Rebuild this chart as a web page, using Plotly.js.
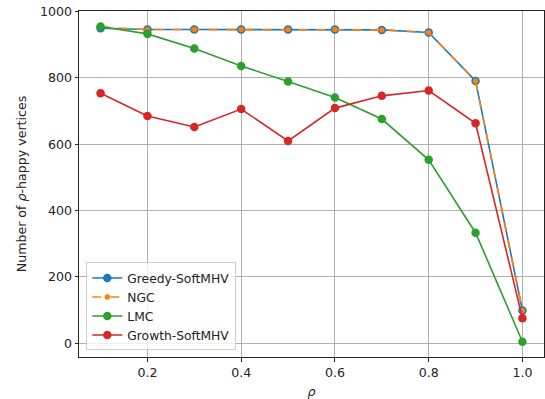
<!DOCTYPE html>
<html><head><meta charset="utf-8">
<script src="https://cdn.plot.ly/plotly-3.0.1.min.js"></script>
<style>body{margin:0;background:#fff}#c{width:545px;height:399px}</style>
</head><body><div id="c"></div>
<script>
const rho = [0.1,0.2,0.3,0.4,0.5,0.6,0.7,0.8,0.9,1.0];
const greedy = [950,946,946,946,946,946,945,937,791,98];
const ngc = [954,946,946,946,946,946,945,937,791,98];
const lmc = [955,933,889,836,789,741,676,553,333,4];
const growth = [754,685,652,706,610,709,746,762,663,75];

const traces = [
  {x:rho,y:greedy,name:'Greedy-SoftMHV',mode:'lines+markers',line:{color:'#1f77b4',width:1.6},marker:{size:8.5,color:'#1f77b4'}},
  {x:rho,y:ngc,name:'NGC',mode:'lines+markers',line:{color:'#ff7f0e',width:1.6,dash:'dash'},marker:{size:5.5,color:'#ff7f0e'}},
  {x:rho,y:lmc,name:'LMC',mode:'lines+markers',line:{color:'#2ca02c',width:1.6},marker:{size:8.5,color:'#2ca02c'}},
  {x:rho,y:growth,name:'Growth-SoftMHV',mode:'lines+markers',line:{color:'#d62728',width:1.6},marker:{size:8.5,color:'#d62728'}}
];
const font = {family:'DejaVu Sans',size:12.6,color:'#222'};
Plotly.newPlot('c',traces,{
  width:545,height:399,
  margin:{l:79,r:1,t:10.5,b:42,autoexpand:false},
  paper_bgcolor:'#fff',plot_bgcolor:'#fff',
  font:font,
  xaxis:{range:[0.054,1.046],tickvals:[0.2,0.4,0.6,0.8,1.0],ticktext:['0.2','0.4','0.6','0.8','1.0'],automargin:false,
    showgrid:true,gridcolor:'#b0b0b0',gridwidth:1,zeroline:false,showline:true,linecolor:'#222',linewidth:1,mirror:true,
    ticks:'outside',ticklen:3.5,tickcolor:'#222',
    title:{text:'<i>ρ</i>',font:{family:'DejaVu Sans',size:12.6},standoff:8}},
  yaxis:{range:[-42,1002],tickvals:[0,200,400,600,800,1000],automargin:false,
    showgrid:true,gridcolor:'#b0b0b0',gridwidth:1,zeroline:false,showline:true,linecolor:'#222',linewidth:1,mirror:true,
    ticks:'outside',ticklen:3.5,tickcolor:'#222',
    title:{text:'Number of <i>ρ</i>-happy vertices',font:{family:'DejaVu Sans',size:12.6},standoff:10}},
  showlegend:true,
  legend:{x:0.0157,y:0.019,xanchor:'left',yanchor:'bottom',bgcolor:'rgba(255,255,255,0.8)',bordercolor:'#cccccc',borderwidth:1,
    font:{family:'DejaVu Sans',size:12.3,color:'#222'},tracegroupgap:0,itemwidth:30}
},{displayModeBar:false,staticPlot:true});
</script></body></html>
